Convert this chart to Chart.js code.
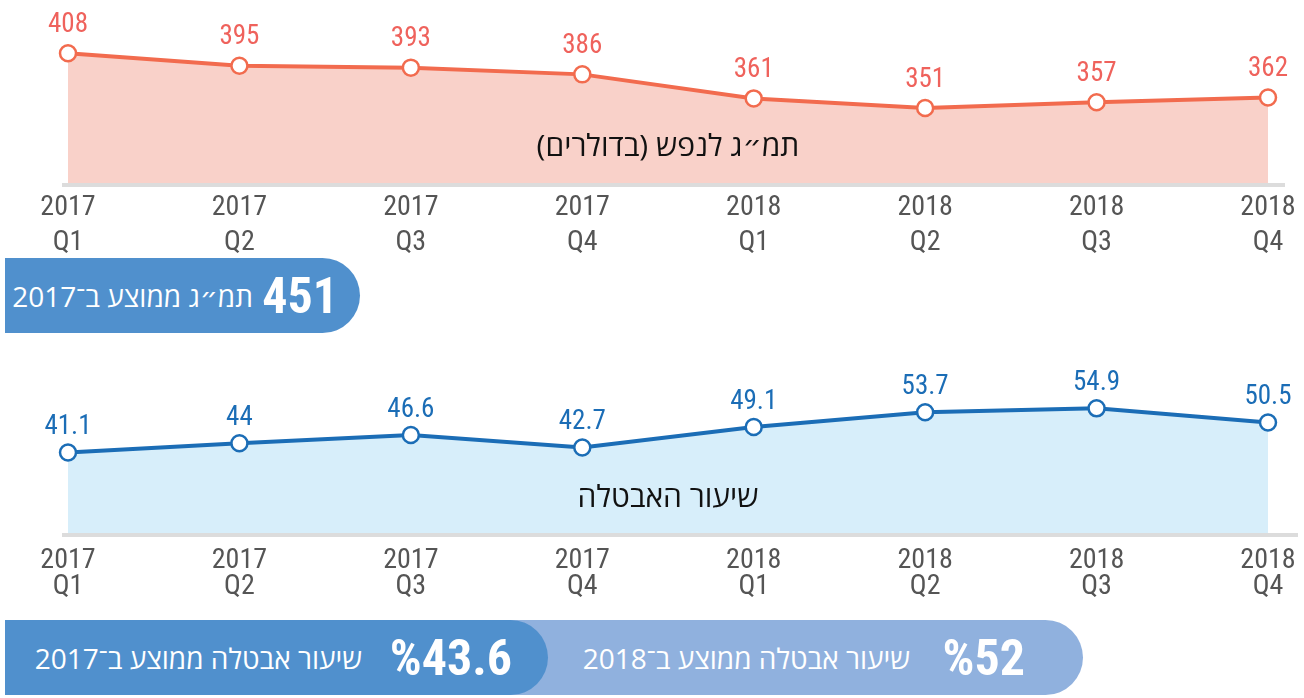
<!DOCTYPE html>
<html lang="he">
<head>
<meta charset="utf-8">
<script src="https://cdn.jsdelivr.net/npm/chart.js@4.4.1/dist/chart.umd.min.js"></script>
<style>
  body { margin: 0; width: 1304px; height: 698px; background: #fff; position: relative; overflow: hidden;
         font-family: "Open Sans", "DejaVu Sans", sans-serif; }
  canvas { position: absolute; left: 0; }
  .title { position: absolute; left: 16px; width: 1304px; text-align: center; color: #111; direction: rtl; }
  .pill { position: absolute; left: 5px; height: 75px; border-radius: 0 38px 38px 0; }
  .txt { position: absolute; top: 50%; transform: translateY(-50%); color: #fff; white-space: nowrap; }
  .num { font-family: "Roboto Condensed", "Liberation Sans Narrow", "DejaVu Sans Condensed", Roboto, sans-serif;
         font-weight: 700; font-size: 50px; direction: ltr; }
  .lbl { font-size: 28px; direction: rtl; }
</style>
</head>
<body>
<canvas id="gdpChart" width="1304" height="255" style="top:0"></canvas>
<div class="title" style="top:124px;font-size:30px">תמ״ג לנפש (בדולרים)</div>

<div class="pill" style="top:258px;width:355px;background:#5090cd">
  <span class="txt num" id="gdpAvg" style="right:22px"></span>
  <span class="txt lbl" style="right:107px">תמ״ג ממוצע ב־2017</span>
</div>

<canvas id="unempChart" width="1304" height="265" style="top:340px"></canvas>
<div class="title" style="top:475px;font-size:30px">שיעור האבטלה</div>

<div class="pill" style="top:620px;width:1078px;background:#90b1de">
  <span class="txt num" id="unemp2018" style="right:58px"></span>
  <span class="txt lbl" style="right:173px">שיעור אבטלה ממוצע ב־2018</span>
</div>
<div class="pill" style="top:620px;width:543px;background:#5090cd">
  <span class="txt num" id="unemp2017" style="right:36px"></span>
  <span class="txt lbl" style="right:186px">שיעור אבטלה ממוצע ב־2017</span>
</div>

<script>
const quarters = [
  ["2017", "Q1"], ["2017", "Q2"], ["2017", "Q3"], ["2017", "Q4"],
  ["2018", "Q1"], ["2018", "Q2"], ["2018", "Q3"], ["2018", "Q4"]
];
const gdpPerCapita = [408, 395, 393, 386, 361, 351, 357, 362];
const unemployment = [41.1, 44, 46.6, 42.7, 49.1, 53.7, 54.9, 50.5];

const avgGdp2017 = 451;
const avgUnemployment2017 = 43.6;
const avgUnemployment2018 = 52;

const condensed = '"Roboto Condensed", "Liberation Sans Narrow", "DejaVu Sans Condensed", Roboto, sans-serif';

document.getElementById("gdpAvg").textContent = String(avgGdp2017);
document.getElementById("unemp2017").textContent = "%" + avgUnemployment2017;
document.getElementById("unemp2018").textContent = "%" + avgUnemployment2018;

// value labels above each point
const valueLabels = {
  id: "valueLabels",
  afterDatasetsDraw(chart, args, opts) {
    const ctx = chart.ctx;
    const values = chart.data.datasets[0].data;
    ctx.save();
    ctx.font = "27px " + condensed;
    ctx.fillStyle = opts.color;
    ctx.textAlign = "center";
    ctx.textBaseline = "middle";
    chart.getDatasetMeta(0).data.forEach((pt, i) => {
      ctx.fillText(String(values[i]), pt.x, pt.y - opts.offset);
    });
    ctx.restore();
  }
};

// grey base line, a bit wider than the plot area
const baseLine = {
  id: "baseLine",
  beforeDatasetsDraw(chart, args, opts) {
    const { ctx, chartArea } = chart;
    ctx.save();
    ctx.fillStyle = "#dcdcdc";
    ctx.fillRect(chartArea.left - 6, chartArea.bottom, chartArea.width + opts.extra, 4);
    ctx.restore();
  }
};

function makeChart(id, values, cfg) {
  return new Chart(document.getElementById(id), {
    type: "line",
    data: {
      labels: quarters,
      datasets: [{
        data: values,
        borderColor: cfg.line,
        borderWidth: 4,
        backgroundColor: cfg.fill,
        fill: "start",
        tension: 0,
        pointRadius: 8,
        pointBorderWidth: 2.5,
        pointBackgroundColor: "#fff",
        pointBorderColor: cfg.line,
        clip: false
      }]
    },
    options: {
      responsive: false,
      devicePixelRatio: 1,
      animation: false,
      events: [],
      layout: { padding: { left: 68, right: 36, top: cfg.top, bottom: 0 } },
      plugins: {
        legend: { display: false },
        tooltip: { enabled: false },
        valueLabels: { color: cfg.label, offset: cfg.offset },
        baseLine: { extra: cfg.extra }
      },
      scales: {
        x: {
          grid: { display: false, drawTicks: true, tickLength: cfg.tickLength },
          border: { display: false },
          ticks: {
            color: "#555",
            padding: 3,
            maxRotation: 0,
            autoSkip: false,
            font: { family: condensed, size: 28, lineHeight: cfg.lineHeight }
          },
          afterFit(scale) { scale.height = 72; }
        },
        y: { display: false, min: cfg.min, max: cfg.max }
      }
    },
    plugins: [baseLine, valueLabels]
  });
}

makeChart("gdpChart", gdpPerCapita, {
  line: "#f26b4e", fill: "#f9d1c9", label: "#ef625c",
  min: 273, max: 428, top: 34, offset: 28, tickLength: 4, lineHeight: 1.25, extra: 23
});

makeChart("unempChart", unemployment, {
  line: "#1b6db6", fill: "#d7eefa", label: "#1b6db6",
  min: 16, max: 60, top: 52, offset: 25, tickLength: 12, lineHeight: 0.93, extra: 36
});
</script>
</body>
</html>
